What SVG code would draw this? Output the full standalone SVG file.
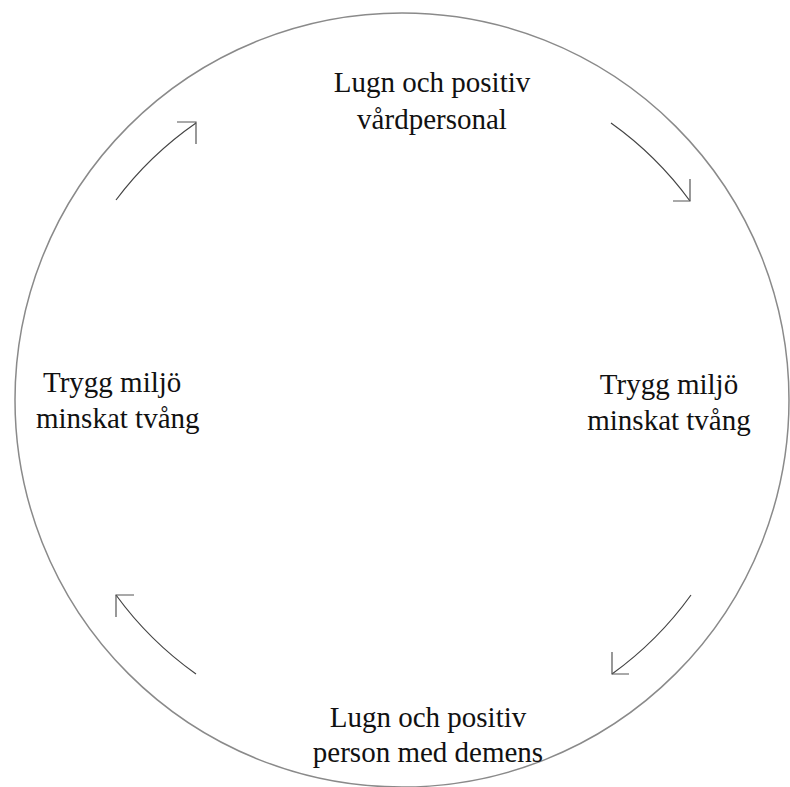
<svg xmlns="http://www.w3.org/2000/svg" width="790" height="787" viewBox="0 0 790 787">
<style>
.ring{fill:none;stroke:#8a8a8a;stroke-width:1.5}
.arc{fill:none;stroke:#444;stroke-width:1.2}
.head{fill:none;stroke:#555;stroke-width:1.2}
text{font-family:"Liberation Serif","Times New Roman",serif;font-size:29px;fill:#111}
.m{text-anchor:middle}
</style>
<rect width="790" height="787" fill="#fff"/>
<g id="ring"><circle class="ring" cx="402" cy="400" r="387"/></g>
<g id="node-top"><text class="m" x="432" y="92">Lugn och positiv</text><text class="m" x="432" y="129">vårdpersonal</text></g>
<g id="node-right"><text class="m" x="669" y="394">Trygg miljö</text><text class="m" x="669" y="430">minskat tvång</text></g>
<g id="node-bottom"><text class="m" x="428" y="727">Lugn och positiv</text><text class="m" x="428" y="762">person med demens</text></g>
<g id="node-left"><text x="43" y="392">Trygg miljö</text><text x="36" y="428">minskat tvång</text></g>
<g id="connectors">
<path class="arc" d="M116,200 A347,347 0 0 1 196,123"/>
<path class="head" d="M177,122 H196 V144"/>
<path class="arc" d="M611,123 A347,347 0 0 1 690,201"/>
<path class="head" d="M690,179 V201 H673"/>
<path class="arc" d="M691,595 A347,347 0 0 1 612,674"/>
<path class="head" d="M612,652 V674 H629"/>
<path class="arc" d="M196,674 A347,347 0 0 1 116,595"/>
<path class="head" d="M134,595 H116 V617"/>
</g>
</svg>
